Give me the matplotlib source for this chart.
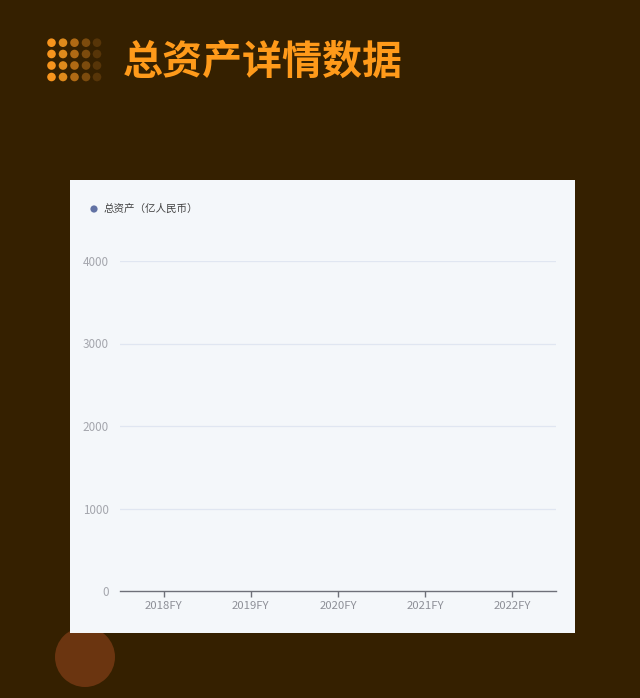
import matplotlib.pyplot as plt
from matplotlib.patches import Circle, Rectangle
import numpy as np

plt.rcParams["font.family"] = ["Noto Sans CJK SC", "DejaVu Sans"]

# data (the captured frame shows the axes before any bar is drawn)
categories = ["2018FY", "2019FY", "2020FY", "2021FY", "2022FY"]
y_ticks = [0, 1000, 2000, 3000, 4000]
series_name = "总资产（亿人民币）"
title = "总资产详情数据"

W, H = 640, 698
BG = "#352000"
PANEL = "#f4f7fa"

fig = plt.figure(figsize=(W / 100, H / 100), dpi=100)
fig.patch.set_facecolor(BG)

# background layer in pixel coordinates (y grows downward)
bg = fig.add_axes([0, 0, 1, 1])
bg.set_xlim(0, W)
bg.set_ylim(H, 0)
bg.axis("off")
bg.set_zorder(0)

dot_cols = ["#f7941d", "#de8a1c", "#b06a14", "#7c4b0d", "#573508"]
for y in [42.7, 54, 65.5, 77]:
    for c, x in enumerate([51.5, 63, 74.5, 86, 97]):
        bg.add_patch(Circle((x, y), 4.3, facecolor=dot_cols[c], edgecolor="none"))

bg.text(123, 62, title, color="#ff9a1a", fontsize=28.8, fontweight="bold",
        ha="left", va="center")

bg.add_patch(Circle((85, 657), 30, facecolor="#6b3510", edgecolor="none", zorder=1))
bg.add_patch(Rectangle((70, 180), 505, 453, facecolor=PANEL, edgecolor="none", zorder=2))

# legend
bg.add_patch(Circle((94, 209), 3.6, facecolor="#6272a4", edgecolor="none", zorder=3))
bg.text(103.5, 209, series_name, color="#444444", fontsize=7.6, ha="left",
        va="center", zorder=3)

ax = fig.add_axes([120 / W, 1 - 591 / H, 436 / W, 330 / H])
ax.set_facecolor("none")
ax.set_zorder(2)
x = np.arange(len(categories))
ax.set_xlim(-0.5, len(categories) - 0.5)
ax.set_ylim(0, 4000)
ax.set_yticks(y_ticks)
ax.set_yticklabels([str(v) for v in y_ticks])
ax.set_xticks(x)
ax.set_xticklabels(categories)
for v in y_ticks[1:]:
    ax.axhline(v, color="#e0e6f1", linewidth=0.9, zorder=0)
for s in ["top", "right", "left"]:
    ax.spines[s].set_visible(False)
ax.spines["bottom"].set_color("#6e7079")
ax.spines["bottom"].set_linewidth(1.0)
ax.tick_params(axis="y", length=0, pad=8, labelsize=8.4, labelcolor="#a4a6ad")
ax.tick_params(axis="x", length=4, width=1, color="#6e7079", pad=3, labelsize=8.2,
               labelcolor="#8e9098")

fig.savefig("out.png", dpi=100, facecolor=BG)
